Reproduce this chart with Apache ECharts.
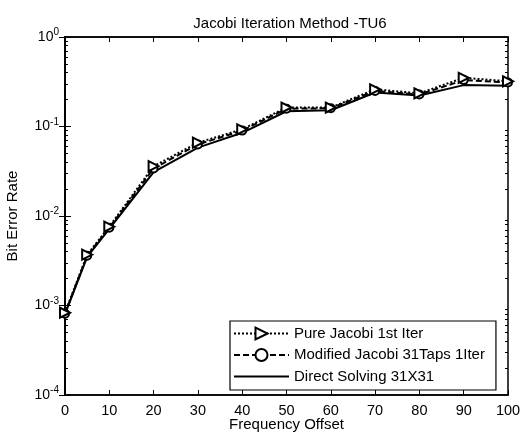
<!DOCTYPE html>
<html>
<head>
<meta charset="utf-8">
<script src="https://cdn.jsdelivr.net/npm/echarts@6/dist/echarts.min.js"></script>
<style>html,body{margin:0;padding:0;background:#fff}#c{width:522px;height:434px}</style>
</head>
<body>
<div id="c"></div>
<script>
var freqOffset = [0, 5, 10, 20, 30, 40, 50, 60, 70, 80, 90, 100];
var pureJacobi = [0.00083, 0.0037, 0.0076, 0.036, 0.066, 0.093, 0.163, 0.163, 0.26, 0.235, 0.35, 0.32];
var modifiedJacobi = [0.00081, 0.0036, 0.0074, 0.034, 0.063, 0.09, 0.158, 0.16, 0.25, 0.228, 0.33, 0.31];
var directSolving = [0.0008, 0.0035, 0.0072, 0.031, 0.058, 0.085, 0.148, 0.152, 0.24, 0.222, 0.29, 0.285];
var xTicks = [0, 10, 20, 30, 40, 50, 60, 70, 80, 90, 100];
var yTicks = [0.0001, 0.001, 0.01, 0.1, 1];
var seriesNames = ['Pure Jacobi 1st Iter', 'Modified Jacobi 31Taps 1Iter', 'Direct Solving 31X31'];

function pairs(ys) { return freqOffset.map(function (x, i) { return [x, ys[i]]; }); }
var yMinor = [];
yTicks.slice(0, -1).forEach(function (d) { for (var k = 2; k <= 9; k++) yMinor.push(d * k); });

var font = 'Liberation Sans, Arial, sans-serif';
var black = '#000';
function minorAxis(pos) {
  return {
    type: 'log', logBase: 10, min: 0.0001, max: 1, position: pos, offset: 0,
    axisLine: { show: false },
    axisTick: { show: true, inside: true, length: 3, lineStyle: { color: black, width: 1 }, customValues: yMinor },
    axisLabel: { show: false }, splitLine: { show: false }
  };
}
var chart = echarts.init(document.getElementById('c'));
chart.setOption({
  animation: false,
  backgroundColor: '#fff',
  title: {
    text: 'Jacobi Iteration Method -TU6',
    left: 285, top: 11, textAlign: 'center',
    textStyle: { fontFamily: font, fontSize: 15, fontWeight: 'normal', color: black }
  },
  grid: { left: 65, right: 14, top: 37, bottom: 39, outerBoundsMode: 'none', containLabel: false,
    show: true, borderColor: black, borderWidth: 1.5, backgroundColor: 'transparent' },
  legend: {
    orient: 'vertical', left: 230, top: 321,
    itemWidth: 55, itemHeight: 15, itemGap: 6.5,
    padding: [5, 11, 6, 3],
    borderColor: black, borderWidth: 1.2,
    backgroundColor: '#fff',
    selectedMode: false,
    textStyle: { fontFamily: font, fontSize: 15, color: black },
    data: [seriesNames[0], seriesNames[1], { name: seriesNames[2], itemStyle: { opacity: 0 } }]
  },
  xAxis: [{
    type: 'value', min: 0, max: 100, interval: 10,
    name: 'Frequency Offset', nameLocation: 'middle', nameGap: 22, nameMoveOverlap: false,
    nameTextStyle: { fontFamily: font, fontSize: 15, color: black },
    axisLine: { show: true, lineStyle: { color: black, width: 1.5 } },
    axisTick: { show: true, inside: true, length: 5, lineStyle: { color: black } },
    axisLabel: { fontFamily: font, fontSize: 14.5, color: black, margin: 8, customValues: xTicks },
    splitLine: { show: false }
  }, {
    type: 'value', min: 0, max: 100, interval: 10, position: 'top',
    axisLine: { show: true, lineStyle: { color: black, width: 1.5 } },
    axisTick: { show: true, inside: true, length: 5, lineStyle: { color: black } },
    axisLabel: { show: false }, splitLine: { show: false }
  }],
  yAxis: [{
    type: 'log', logBase: 10, min: 0.0001, max: 1,
    name: 'Bit Error Rate', nameLocation: 'middle', nameGap: 45, nameMoveOverlap: false,
    nameTextStyle: { fontFamily: font, fontSize: 15, color: black },
    axisLine: { show: true, lineStyle: { color: black, width: 1.5 } },
    axisTick: { show: true, inside: true, length: 6, lineStyle: { color: black } },
    axisLabel: {
      fontFamily: font, fontSize: 14, color: black, margin: 6, customValues: yTicks,
      formatter: function (v) { return '10{sup|' + Math.round(Math.log10(v)) + '}'; },
      rich: { sup: { fontFamily: font, fontSize: 10, color: black, verticalAlign: 'top', padding: [0, 0, 9, 0] } }
    },
    splitLine: { show: false }
  }, {
    type: 'log', logBase: 10, min: 0.0001, max: 1, position: 'right',
    axisLine: { show: true, lineStyle: { color: black, width: 1.5 } },
    axisTick: { show: true, inside: true, length: 6, lineStyle: { color: black } },
    axisLabel: { show: false }, splitLine: { show: false }
  }, minorAxis('left'), minorAxis('right')],
  series: [{
    name: seriesNames[0], type: 'line', data: pairs(pureJacobi),
    symbol: 'emptyTriangle', symbolRotate: -90, symbolSize: 10,
    lineStyle: { color: black, width: 2, type: [2, 2] },
    itemStyle: { color: black, borderColor: black, borderWidth: 2 }, z: 3
  }, {
    name: seriesNames[1], type: 'line', data: pairs(modifiedJacobi),
    symbol: 'emptyCircle', symbolSize: 8,
    lineStyle: { color: black, width: 2, type: [6, 3] },
    itemStyle: { color: black, borderColor: black, borderWidth: 2 }, z: 2
  }, {
    name: seriesNames[2], type: 'line', data: pairs(directSolving),
    symbol: 'none', showSymbol: false,
    lineStyle: { color: black, width: 2 },
    itemStyle: { color: black }, z: 1
  }]
});
</script>
</body>
</html>
